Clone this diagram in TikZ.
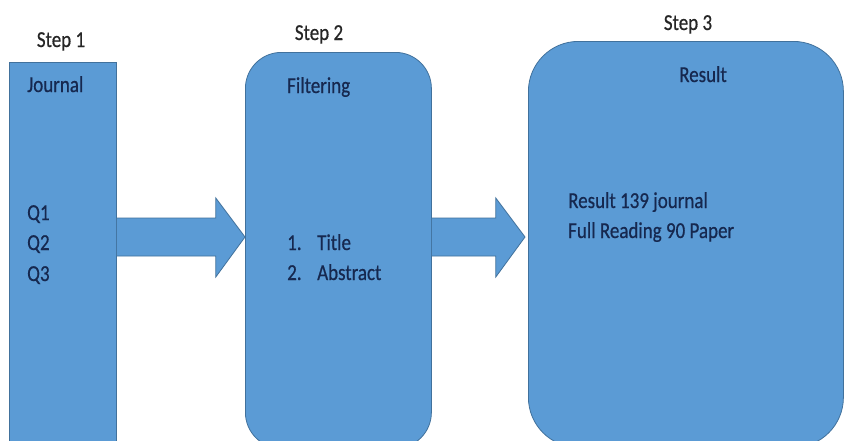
\documentclass[tikz,border=0pt]{standalone}
\usepackage{fontspec}
\setmainfont{Carlito}
\usetikzlibrary{calc}
\definecolor{boxblue}{HTML}{5B9BD5}
\definecolor{boxedge}{HTML}{41719C}
\definecolor{navy}{HTML}{16284F}
\newcommand{\txt}[1]{\scalebox{1}[1.2]{#1}}
\begin{document}
\begin{tikzpicture}[x=1pt,y=-1pt,
  box/.style={draw=boxedge, fill=boxblue, line width=0.8pt, anchor=north west, inner sep=0pt},
  arrowshape/.style={draw=boxedge, fill=boxblue, line width=0.8pt, line join=miter},
  lbl/.style={font=\fontsize{19}{23}\selectfont\addfontfeature{FakeBold=0.6}, text=navy, inner sep=0pt, anchor=base west},
  steplbl/.style={font=\fontsize{19}{23}\selectfont\addfontfeature{FakeBold=0.6}, text=black!85, inner sep=0pt, anchor=base}]
\fill[white] (0,0) rectangle (844,440);
\useasboundingbox (0,0) rectangle (844,440);
\clip (0,0) rectangle (844,440);
% boxes
\node[box, minimum width=107pt, minimum height=386pt] (j) at (9,62) {};
\node[box, rounded corners=36pt, minimum width=186pt, minimum height=396pt] (f) at (245,52) {};
\node[box, rounded corners=50pt, minimum width=315pt, minimum height=406pt] (r) at (528,41) {};
% arrow axis
\coordinate (ax) at (0,237);
% arrow 1
\draw[arrowshape] ($(j.east |- ax)+(0,-19)$) -- ($(j.east |- ax)+(99,-19)$) -- ($(j.east |- ax)+(99,-39)$)
  -- (f.west |- ax) -- ($(j.east |- ax)+(99,40)$) -- ($(j.east |- ax)+(99,19)$) -- ($(j.east |- ax)+(0,19)$);
% arrow 2
\draw[arrowshape] ($(f.east |- ax)+(0,-19)$) -- ($(f.east |- ax)+(64,-19)$) -- ($(f.east |- ax)+(64,-39)$)
  -- ($(r.west |- ax)+(-3,0)$) -- ($(f.east |- ax)+(64,40)$) -- ($(f.east |- ax)+(64,19)$) -- ($(f.east |- ax)+(0,19)$);
% step labels
\node[steplbl] (s1) at (61,47) {\txt{Step 1}};
\node[steplbl] (s2) at (319,40) {\txt{Step 2}};
\node[steplbl] (s3) at (688,30) {\txt{Step 3}};
% box 1 text
\node[lbl] (jt) at (27,92) {\txt{Journal}};
\node[lbl] (q1) at (27,220) {\txt{Q1}};
\node[lbl] (q2) at (27,250) {\txt{Q2}};
\node[lbl] (q3) at (27,281) {\txt{Q3}};
% box 2 text
\node[lbl] (ft) at (287,93) {\txt{Filtering}};
\node[lbl] (n1) at (287,250) {\txt{1.}};
\node[lbl] (t1) at (317,250) {\txt{Title}};
\node[lbl] (n2) at (287,280) {\txt{2.}};
\node[lbl] (t2) at (317,280) {\txt{Abstract}};
% box 3 text
\node[lbl, anchor=base] (rt) at (703,82) {\txt{Result}};
\node[lbl] (r1) at (568,208) {\txt{Result 139 journal}};
\node[lbl] (r2) at (568,238) {\txt{Full Reading 90 Paper}};
\end{tikzpicture}
\end{document}
